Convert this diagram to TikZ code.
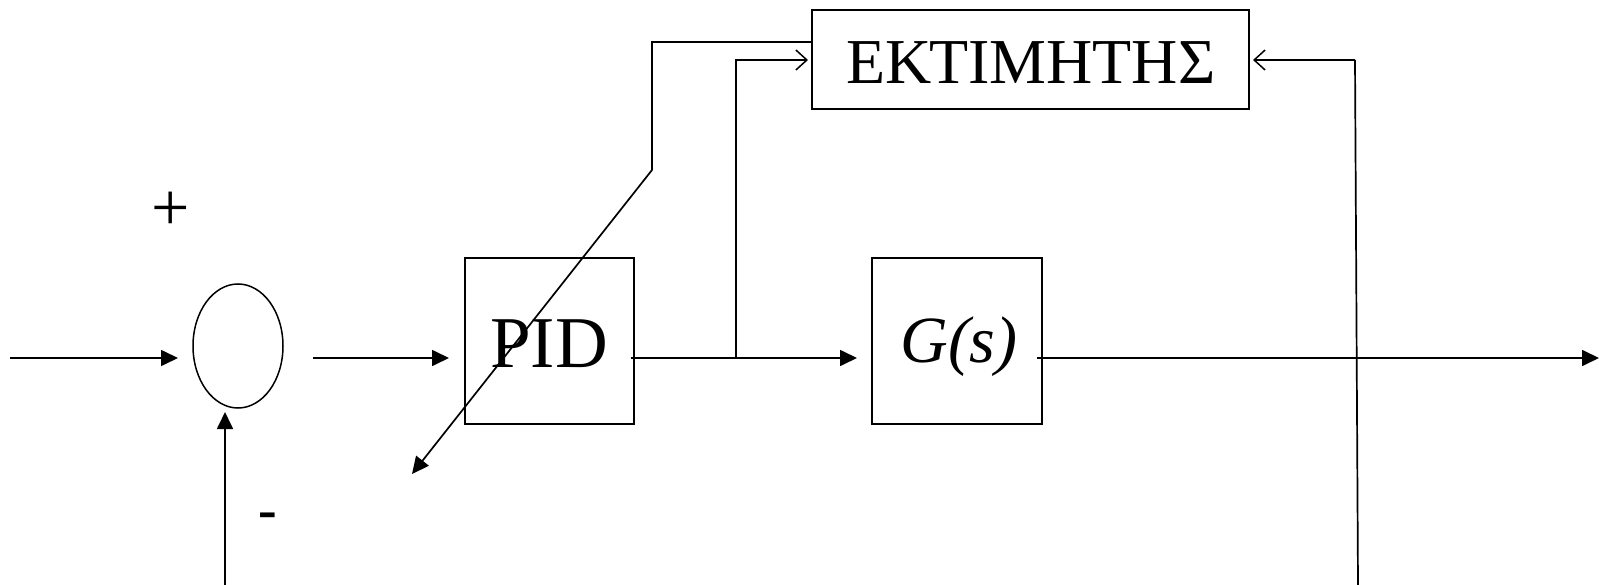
\documentclass[tikz,border=0pt]{standalone}
\usepackage{fontspec}
\setmainfont{Liberation Serif}
\usetikzlibrary{arrows.meta,shapes.geometric}
\tikzset{
  blk/.style={draw,line width=1.5pt,inner sep=0pt},
  ln/.style={line width=1.7pt},
  fa/.style={ln,-{Triangle[length=17pt,width=16pt]}},
  oa/.style={ln,-{Straight Barb[length=11pt,width=20pt,line width=1.5pt]}},
}
\begin{document}
\begin{tikzpicture}[x=1pt,y=-1pt]
\useasboundingbox (0,0) rectangle (1599,585);
% blocks
\node[blk,minimum width=437pt,minimum height=99pt] (est) at (1030.5,59.5) {};
\node at (1031,63) {\fontsize{64}{64}\selectfont ΕΚΤΙΜΗΤΗΣ};
\node[blk,minimum width=169pt,minimum height=166pt] (pid) at (549.5,341) {};
\node at (549,344) {\fontsize{73}{73}\selectfont PID};
\node[blk,minimum width=170pt,minimum height=166pt] (g) at (957,341) {};
\node at (959,347) {\fontsize{66}{66}\selectfont\itshape G(s)};
\node[blk,ellipse,minimum width=90pt,minimum height=124pt] (sum) at (238,346) {};
\node[anchor=base,inner sep=0pt] (plus) at (171,231) {\fontsize{68}{68}\selectfont +};
\node[anchor=base,inner sep=0pt] (minus) at (268,528) {\fontsize{56}{56}\selectfont\bfseries -};
% coordinates
\coordinate (in) at (10,358);
\coordinate (sumin) at (178,358);
\coordinate (sumout) at (313,358);
\coordinate (pidin) at (449,358);
\coordinate (pidout) at (631,358);
\coordinate (br) at (736,358);
\coordinate (gin) at (857,358);
\coordinate (gout) at (1037,358);
\coordinate (out) at (1599,358);
\coordinate (estin1) at (808,60);
\coordinate (estin2) at (1253,60);
\coordinate (fbtop) at (1355,60);
\coordinate (fbbot) at (1358,585);
\coordinate (c1) at (652,42);
\coordinate (c2) at (652,170);
\coordinate (c3) at (412,474);
\coordinate (fb1) at (225,585);
\coordinate (fb2) at (225,412);
% connectors
\draw[fa] (in) -- (sumin);
\draw[fa] (sumout) -- (pidin);
\draw[fa] (pidout) -- (gin);
\draw[oa] (br) -- (736,60) -- (estin1);
\draw[fa] (gout) -- (out);
\draw[ln] (fbbot) -- (fbtop);
\draw[oa] (fbtop) -- (estin2);
\draw[fa] (est.west |- c1) -- (c1) -- (c2) -- (c3);
\draw[fa] (fb1) -- (fb2);
\end{tikzpicture}
\end{document}
